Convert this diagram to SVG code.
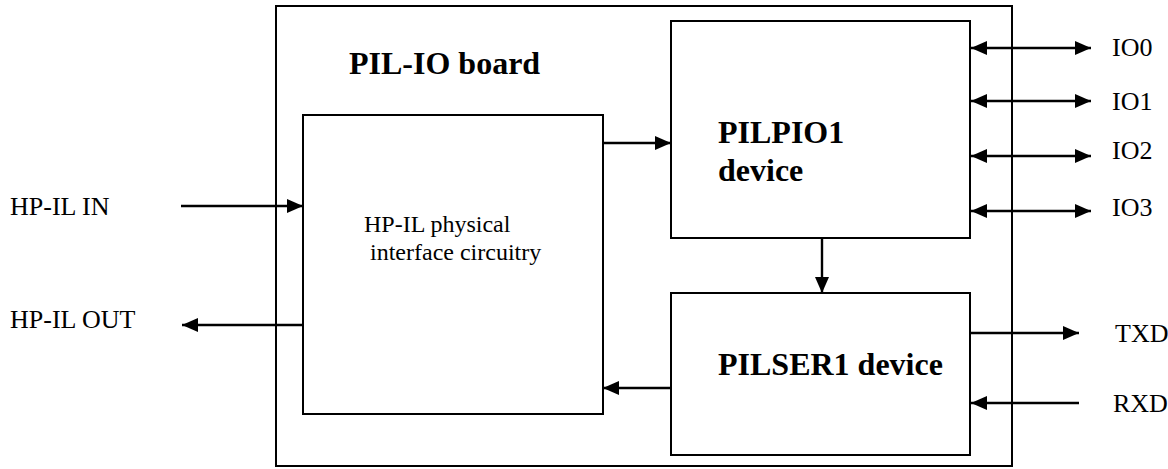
<svg xmlns="http://www.w3.org/2000/svg" width="1168" height="469" viewBox="0 0 1168 469">
<style>
.box{fill:none;stroke:#000;stroke-width:2}
.ln{fill:none;stroke:#000;stroke-width:2.4}
.t{font-family:"Liberation Serif","Times New Roman",serif;font-size:26px;fill:#000}
.s{font-family:"Liberation Serif","Times New Roman",serif;font-size:24px;fill:#000}
.b{font-family:"Liberation Serif","Times New Roman",serif;font-size:32px;font-weight:bold;fill:#000}
</style>
<defs>
<marker id="ah" markerUnits="userSpaceOnUse" markerWidth="16" markerHeight="14" refX="16" refY="7" orient="auto-start-reverse">
<path d="M0,0 L16,7 L0,14 z" fill="#000"/>
</marker>
</defs>
<g id="board">
<rect class="box" x="276" y="6" width="736" height="460"/>
<text class="b" x="349" y="74">PIL-IO board</text>
</g>
<g id="hpil">
<rect class="box" x="303" y="115" width="300" height="299"/>
<text class="s" x="364" y="232">HP-IL physical</text>
<text class="s" x="370" y="260">interface circuitry</text>
</g>
<g id="pilpio1">
<rect class="box" x="671" y="21" width="299" height="217"/>
<text class="b" x="718" y="143">PILPIO1</text>
<text class="b" x="718" y="181">device</text>
</g>
<g id="pilser1">
<rect class="box" x="671" y="293" width="299" height="162"/>
<text class="b" x="718" y="375">PILSER1 device</text>
</g>
<g id="labels">
<text class="t" x="10" y="215">HP-IL IN</text>
<text class="t" x="10" y="328">HP-IL OUT</text>
<text class="t" x="1112" y="56">IO0</text>
<text class="t" x="1112" y="110">IO1</text>
<text class="t" x="1112" y="159">IO2</text>
<text class="t" x="1112" y="216">IO3</text>
<text class="t" x="1115" y="342">TXD</text>
<text class="t" x="1113" y="412">RXD</text>
</g>
<g id="connectors">
<line class="ln" x1="181" y1="206" x2="303" y2="206" marker-end="url(#ah)"/>
<line class="ln" x1="303" y1="325" x2="182" y2="325" marker-end="url(#ah)"/>
<line class="ln" x1="603" y1="143" x2="671" y2="143" marker-end="url(#ah)"/>
<line class="ln" x1="822" y1="238" x2="822" y2="293" marker-end="url(#ah)"/>
<line class="ln" x1="671" y1="388" x2="603" y2="388" marker-end="url(#ah)"/>
<line class="ln" x1="971" y1="48" x2="1091" y2="48" marker-start="url(#ah)" marker-end="url(#ah)"/>
<line class="ln" x1="971" y1="101" x2="1091" y2="101" marker-start="url(#ah)" marker-end="url(#ah)"/>
<line class="ln" x1="971" y1="156" x2="1091" y2="156" marker-start="url(#ah)" marker-end="url(#ah)"/>
<line class="ln" x1="971" y1="211" x2="1091" y2="211" marker-start="url(#ah)" marker-end="url(#ah)"/>
<line class="ln" x1="971" y1="333" x2="1079" y2="333" marker-end="url(#ah)"/>
<line class="ln" x1="1079" y1="403" x2="971" y2="403" marker-end="url(#ah)"/>
</g>
</svg>
